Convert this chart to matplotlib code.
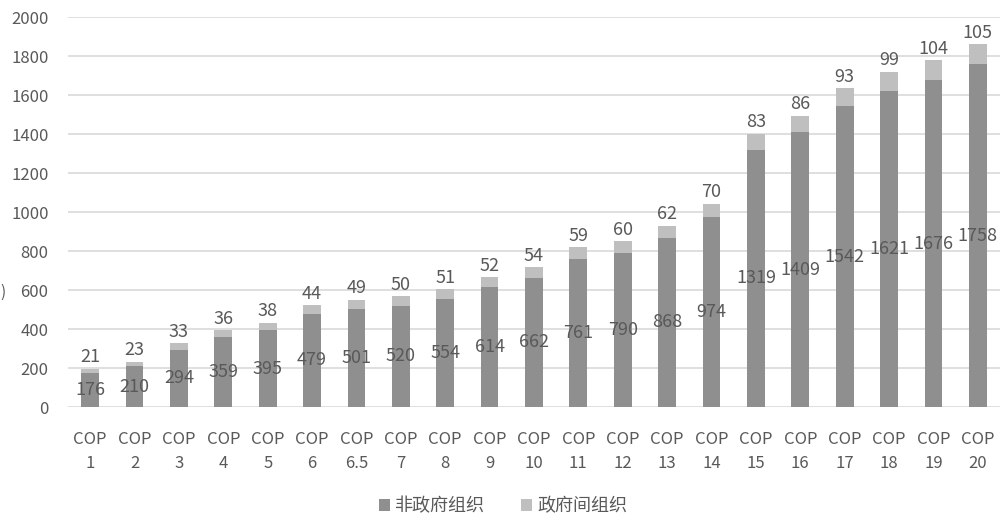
import matplotlib
matplotlib.use("Agg")
from matplotlib import pyplot as plt
import numpy as np

plt.rcParams['font.family'] = ['Noto Sans CJK SC', 'DejaVu Sans']

sessions = ['1', '2', '3', '4', '5', '6', '6.5', '7', '8', '9', '10',
            '11', '12', '13', '14', '15', '16', '17', '18', '19', '20']
ngo = [176, 210, 294, 359, 395, 479, 501, 520, 554, 614, 662,
       761, 790, 868, 974, 1319, 1409, 1542, 1621, 1676, 1758]
igo = [21, 23, 33, 36, 38, 44, 49, 50, 51, 52, 54,
       59, 60, 62, 70, 83, 86, 93, 99, 104, 105]

dark = '#8f8f8f'
light = '#bfbfbf'
txt = '#595959'

fig = plt.figure(figsize=(10.06, 5.2), dpi=100)
ax = fig.add_axes([0.0676, 0.2173, 0.9264, 0.7497])

x = np.arange(len(sessions))
ngo = np.array(ngo)
igo = np.array(igo)
b1 = ax.bar(x, ngo, width=0.4, color=dark, label='非政府组织', zorder=2)
b2 = ax.bar(x, igo, width=0.4, bottom=ngo, color=light, label='政府间组织', zorder=2)

# segment value in the middle of the dark part, small count on top of the stack
for xi, a, b in zip(x, ngo, igo):
    ax.text(xi, a / 2, str(a), ha='center', va='center', fontsize=13, color=txt, zorder=3)
    ax.text(xi, a + b + 12, str(b), ha='center', va='bottom', fontsize=13, color=txt, zorder=3)

ax.set_ylim(0, 2000)
ax.set_xlim(-0.5, len(sessions) - 0.5)
ax.set_yticks(np.arange(0, 2001, 200))
ax.set_xticks(x)
ax.set_xticklabels(['COP\n' + s for s in sessions], linespacing=1.6)
ax.tick_params(axis='both', length=0, labelsize=12, labelcolor=txt)
ax.tick_params(axis='x', pad=17)
ax.tick_params(axis='y', pad=14)
ax.grid(axis='y', color='#d9d9d9', linewidth=1.2, zorder=0)
for s in ax.spines.values():
    s.set_visible(False)

fig.text(0.0, 0.438, ')', fontsize=11, color=txt, ha='left', va='center')

fig.legend(handles=[b1, b2], loc='center', bbox_to_anchor=(0.5, 0.026), ncol=2,
           frameon=False, fontsize=13, handlelength=0.6, handleheight=0.6,
           handletextpad=0.3, columnspacing=2.0, labelcolor=txt,
           borderpad=0.2)

fig.savefig('out.png', dpi=100)
